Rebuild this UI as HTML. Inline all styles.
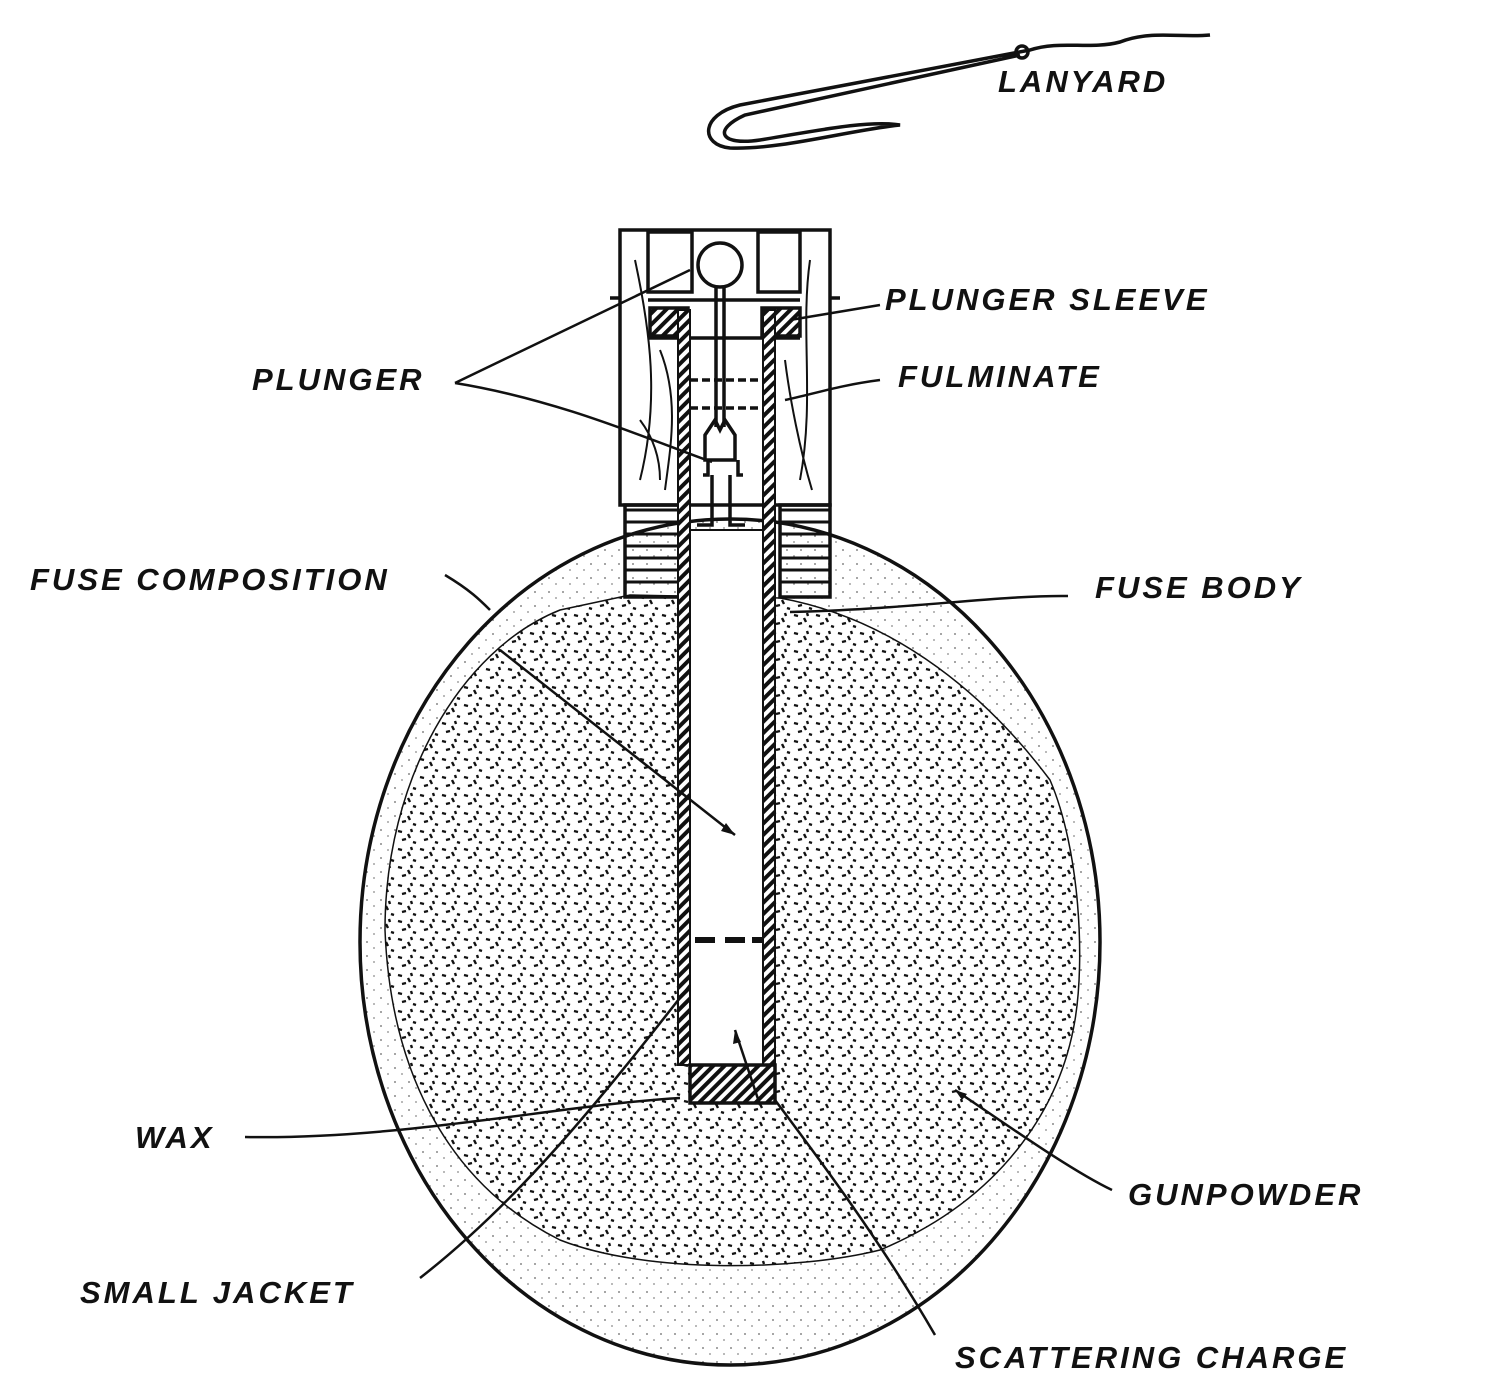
<!DOCTYPE html>
<html><head><style>
html,body{margin:0;padding:0;background:#fff;}
svg{display:block}
text{font-family:"Liberation Sans",sans-serif;font-style:italic;font-size:31px;fill:#111;letter-spacing:3px;font-weight:bold}
</style></head><body>
<svg width="1501" height="1400" viewBox="0 0 1501 1400" xmlns="http://www.w3.org/2000/svg">
<defs>
<pattern id="dots" width="22" height="18" patternUnits="userSpaceOnUse">
<rect width="22" height="18" fill="#fff"/>
<path d="M2 3 l4 1 M12 6 l2 4 M6 12 l4 -1 M17 14 l3 1 M15 1 l1 3" stroke="#111" stroke-width="2.4"/>
</pattern>
<pattern id="spk" width="14" height="14" patternUnits="userSpaceOnUse">
<rect width="14" height="14" fill="#fff"/>
<circle cx="3" cy="4" r="0.9" fill="#666"/><circle cx="10" cy="10" r="0.9" fill="#888"/>
</pattern>
<pattern id="hatch" width="8" height="8" patternUnits="userSpaceOnUse" patternTransform="rotate(45)">
<rect width="8" height="8" fill="#fff"/><rect width="4" height="8" fill="#111"/>
</pattern>
</defs>
<g fill="none" stroke="#111" stroke-width="3.5">
<!-- lanyard -->
<path d="M1210 35 C1180 38 1150 30 1120 42 C1090 50 1060 40 1030 50 L 740 105 C700 115 700 145 730 148 C780 150 850 130 900 125 C 870 120 820 130 760 140 C720 146 712 130 745 115 L1020 55"/>
<circle cx="1022" cy="52" r="6"/>
<!-- body circle -->
<ellipse cx="730" cy="942" rx="370" ry="423" fill="url(#spk)"/>
<path d="M385 930 C385 780 460 650 560 610 L630 595 L780 598 C900 620 990 700 1050 780 C1080 850 1085 960 1075 1020 C1060 1110 1000 1200 880 1250 C800 1270 650 1275 560 1240 C440 1180 390 1060 385 930Z" fill="url(#dots)" stroke-width="1.5"/>
<!-- fuse outer -->
<rect x="620" y="230" width="210" height="275" fill="#fff"/>
<rect x="648" y="232" width="44" height="60"/>
<rect x="758" y="232" width="42" height="60"/>
<line x1="648" y1="300" x2="800" y2="300"/>
<line x1="648" y1="338" x2="800" y2="338"/>
<rect x="650" y="308" width="38" height="28" fill="url(#hatch)"/>
<rect x="762" y="308" width="38" height="28" fill="url(#hatch)"/>
<path d="M610 298 h10 M830 298 h10"/>
<!-- wood grain -->
<path d="M635 260 C650 330 660 400 640 480 M660 350 C680 400 670 450 665 490 M810 260 C800 330 815 400 800 480 M785 360 C790 400 800 450 812 490 M640 420 C655 440 660 460 660 480" stroke-width="2"/>
<!-- threads -->
<path d="M625 510 h55 M625 522 h55 M625 534 h55 M625 546 h55 M625 558 h55 M625 570 h55 M625 582 h55 M780 510 h50 M780 522 h50 M780 534 h50 M780 546 h50 M780 558 h50 M780 570 h50 M780 582 h50" stroke-width="3"/>
<rect x="625" y="505" width="55" height="92"/>
<rect x="780" y="505" width="50" height="92"/>
<!-- tube -->
<rect x="678" y="310" width="12" height="755" fill="url(#hatch)" stroke-width="2"/>
<rect x="763" y="310" width="12" height="755" fill="url(#hatch)" stroke-width="2"/>
<rect x="690" y="530" width="73" height="535" fill="#fff" stroke-width="2"/>
<rect x="690" y="1065" width="85" height="38" fill="url(#hatch)"/>
<path d="M695 940 h20 M725 940 h20 M752 940 h10" stroke-width="6"/>
<path d="M690 380 h73 M690 408 h73" stroke-dasharray="8 4"/>
<!-- plunger -->
<circle cx="720" cy="265" r="22"/>
<path d="M716 287 v140 M724 287 v140"/>
<path d="M705 460 v-25 l10 -15 l5 10 l5 -10 l10 15 v25 Z"/>
<path d="M708 460 v15 h-5 M738 460 v15 h5 M712 475 v50 h-15 M730 475 v50 h15"/>
<!-- leaders -->
<g stroke-width="2.5">
<path d="M455 383 L690 270"/><path d="M455 383 C560 400 650 440 712 462"/>
<path d="M880 305 L790 320"/><path d="M880 380 C840 385 810 395 785 400"/>
<path d="M1068 596 C1000 595 900 610 790 612"/>
<path d="M445 575 C470 590 480 600 490 610"/>
<path d="M500 650 L735 835"/>
<path d="M245 1137 C400 1140 560 1105 680 1098"/>
<path d="M420 1278 C520 1200 600 1100 690 985"/>
<path d="M935 1335 C880 1240 820 1160 775 1100"/>
<path d="M1112 1190 C1070 1170 1000 1120 955 1090"/>
<path d="M760 1105 L735 1030"/>
</g>
</g>
<g fill="#111">
<path d="M735 835 l-14 -4 l5 -8Z"/><path d="M735 1030 l-2 14 l8 -2Z"/><path d="M955 1090 l12 4 l-5 6Z"/>
</g>
<text x="998" y="92">LANYARD</text>
<text x="885" y="310">PLUNGER SLEEVE</text>
<text x="252" y="390">PLUNGER</text>
<text x="898" y="387">FULMINATE</text>
<text x="30" y="590">FUSE COMPOSITION</text>
<text x="1095" y="598">FUSE BODY</text>
<text x="135" y="1148">WAX</text>
<text x="1128" y="1205">GUNPOWDER</text>
<text x="80" y="1303">SMALL JACKET</text>
<text x="955" y="1368">SCATTERING CHARGE</text>
</svg>
</body></html>
